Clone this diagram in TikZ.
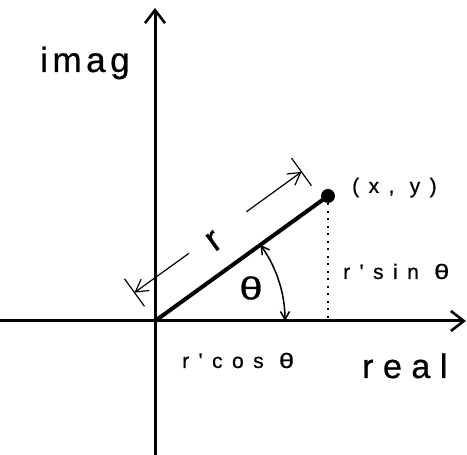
\documentclass[tikz,border=0pt]{standalone}
\usepackage{fontspec}
\setmainfont{Liberation Sans}[FakeBold=0.6]
\newfontfamily\smallspaced[LetterSpace=45,FakeBold=0.6]{Liberation Sans}
\newfontfamily\imagfont[LetterSpace=13,FakeBold=0.7]{Liberation Sans}
\newfontfamily\realfont[LetterSpace=28,FakeBold=0.7]{Liberation Sans}
\newcommand{\wth}{\scalebox{1.3}[1]{θ}}
\usetikzlibrary{arrows.meta,calc}
\begin{document}
\begin{tikzpicture}[x=1pt,y=1pt,
  axis/.style={line width=3pt,-{Straight Barb[length=13pt,width=20pt,line width=2.6pt]}},
  radius line/.style={line width=4pt},
  dimline/.style={line width=1.2pt,-{Straight Barb[length=12pt,width=14pt]}},
  tickmark/.style={line width=1.2pt},
  anglearc/.style={line width=1.5pt,{Straight Barb[length=8pt,width=9pt]}-{Straight Barb[length=8pt,width=9pt]}},
  proj/.style={line width=2pt,dash pattern=on 2pt off 5.5pt},
  lbl/.style={inner sep=0pt,anchor=base west}]
\useasboundingbox (0,0) rectangle (467,455);
% key points
\coordinate (O) at (155,134);
\coordinate (P) at (328,259);
\coordinate (Ybot) at (155,0);
\coordinate (Ytop) at (155,447);
\coordinate (Xl) at (0,134);
\coordinate (Xr) at (466,134);
\coordinate (Pfoot) at (328,134);
% dimension line points
\coordinate (A) at (134.5,162.4);
\coordinate (B) at (301.5,283.1);
\coordinate (L1) at (188.8,201.6);
\coordinate (U1) at (246.4,243.2);
\coordinate (TA1) at (124.5,176.2);
\coordinate (TA2) at (144.5,148.6);
\coordinate (TB1) at (291.5,296.9);
\coordinate (TB2) at (311.5,269.3);
\coordinate (ArcS) at (285,134);
% axes
\draw[axis] (Ybot) -- (Ytop);
\draw[axis] (Xl) -- (Xr);
% projection
\draw[proj] (P) -- (Pfoot);
% radius
\draw[radius line] (O) -- (P);
\fill (P) circle[radius=7];
% dimension
\draw[dimline] (L1) -- (A);
\draw[dimline] (U1) -- (B);
\draw[tickmark] (TA1) -- (TA2);
\draw[tickmark] (TB1) -- (TB2);
% angle arc
\draw[anglearc] (ArcS) arc[start angle=0,end angle=35.85,radius=130];
% labels
\node[font=\fontsize{36}{36}\selectfont,rotate=36] (rl) at (214,214) {r};
\node[font=\fontsize{32}{32}\selectfont] (th) at (251,167) {\wth};
\node[lbl,font=\imagfont\fontsize{35}{35}\selectfont] (imag) at (40,383) {imag};
\node[lbl,font=\realfont\fontsize{34}{34}\selectfont] (real) at (362,77) {real};
\node[lbl,font=\smallspaced\fontsize{21}{21}\selectfont] (cosl) at (182,87) {r'cos \wth};
\node[lbl,font=\smallspaced\fontsize{21}{21}\selectfont] (sinl) at (343,176) {r'sin \wth};
\node[lbl,font=\smallspaced\fontsize{21}{21}\selectfont] (xy) at (352,262) {(x, y)};
\end{tikzpicture}
\end{document}
